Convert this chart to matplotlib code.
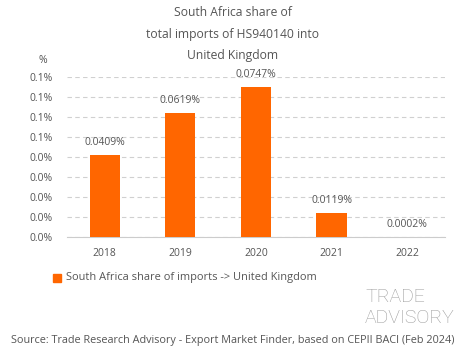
import matplotlib.pyplot as plt
from matplotlib.ticker import FuncFormatter

# data
years = ["2018", "2019", "2020", "2021", "2022"]
share = [0.0409, 0.0619, 0.0747, 0.0119, 0.0002]
labels = ["0.0409%", "0.0619%", "0.0747%", "0.0119%", "0.0002%"]
yticks = [0.0, 0.01, 0.02, 0.03, 0.04, 0.05, 0.06, 0.07, 0.08]

orange = "#FF6600"
grey = "#555555"
plt.rcParams["font.family"] = ["Open Sans", "DejaVu Sans"]

fig = plt.figure(figsize=(4.65, 3.59), dpi=100)
ax = fig.add_axes([0.144, 0.340, 0.813, 0.446])

x = range(len(years))
ax.bar(x, share, width=0.4, color=orange, zorder=3)
for i, v in enumerate(share):
    ax.annotate(labels[i], (i, v), xytext=(0, 5), textcoords="offset points",
                ha="center", va="bottom", fontsize=7.5, color=grey)

ax.set_xlim(-0.5, len(years) - 0.5)
ax.set_ylim(0, 0.08)
ax.set_yticks(yticks)
ax.yaxis.set_major_formatter(FuncFormatter(lambda v, p: "%.1f%%" % (v + 1e-9)))
ax.set_xticks(list(x))
ax.set_xticklabels(years)
ax.tick_params(length=0, labelsize=7.5, colors=grey)
ax.tick_params(axis="x", pad=8)
ax.tick_params(axis="y", pad=10)
ax.grid(axis="y", linestyle=(0, (4, 3)), color="#d0d0d0", linewidth=0.8, zorder=0)
for s in ["top", "right", "left"]:
    ax.spines[s].set_visible(False)
ax.spines["bottom"].set_color("#cccccc")

# titel
fig.text(0.5, 0.965, "South Africa share of", ha="center", va="center", fontsize=8.7, color=grey)
fig.text(0.5, 0.905, "total imports of HS940140 into", ha="center", va="center", fontsize=8.7, color=grey)
fig.text(0.5, 0.845, "United Kingdom", ha="center", va="center", fontsize=8.7, color=grey)
fig.text(0.093, 0.832, "%", ha="center", va="center", fontsize=7.5, color=grey)

# legend
fig.patches.append(plt.Rectangle((0.115, 0.215), 0.017, 0.022, color=orange,
                                 transform=fig.transFigure, figure=fig))
fig.text(0.142, 0.226, "South Africa share of imports -> United Kingdom",
         ha="left", va="center", fontsize=7.9, color=grey)

# logo
fig.text(0.785, 0.172, "TRADE", ha="left", va="center", fontsize=14, color="#9a9a9a",
         family="Roboto", fontweight="light")
fig.text(0.785, 0.113, "ADVISORY", ha="left", va="center", fontsize=14, color="#9a9a9a",
         family="Roboto", fontweight="light")

fig.text(0.5, 0.052, "Source: Trade Research Advisory - Export Market Finder, based on CEPII BACI (Feb 2024)",
         ha="center", va="center", fontsize=7.8, color=grey)

fig.savefig("out.png", dpi=100)
